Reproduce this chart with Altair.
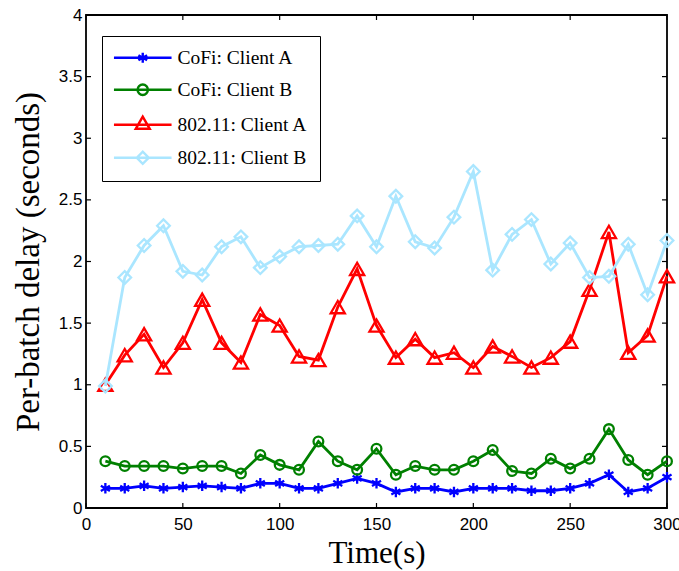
import math
import altair as alt
import pandas as pd

# Time axis (seconds) and per-batch delay for each client
time_s = [10, 20, 30, 40, 50, 60, 70, 80, 90, 100,
          110, 120, 130, 140, 150, 160, 170, 180, 190, 200,
          210, 220, 230, 240, 250, 260, 270, 280, 290, 300]

cofi_a = [0.16, 0.16, 0.18, 0.16, 0.17, 0.18, 0.17, 0.16, 0.20, 0.20,
          0.16, 0.16, 0.20, 0.24, 0.20, 0.13, 0.16, 0.16, 0.13, 0.16,
          0.16, 0.16, 0.14, 0.14, 0.16, 0.20, 0.27, 0.13, 0.16, 0.25]
cofi_b = [0.38, 0.34, 0.34, 0.34, 0.32, 0.34, 0.34, 0.28, 0.43, 0.35,
          0.31, 0.54, 0.38, 0.31, 0.48, 0.27, 0.34, 0.31, 0.31, 0.38,
          0.47, 0.30, 0.28, 0.40, 0.32, 0.40, 0.64, 0.39, 0.27, 0.38]
wifi_a = [1.00, 1.24, 1.41, 1.14, 1.34, 1.69, 1.34, 1.18, 1.57, 1.48,
          1.23, 1.20, 1.63, 1.94, 1.48, 1.22, 1.37, 1.22, 1.26, 1.14,
          1.31, 1.23, 1.14, 1.22, 1.35, 1.77, 2.24, 1.26, 1.40, 1.88]
wifi_b = [0.99, 1.87, 2.13, 2.29, 1.92, 1.89, 2.12, 2.20, 1.95, 2.04,
          2.12, 2.13, 2.14, 2.37, 2.12, 2.53, 2.16, 2.11, 2.36, 2.73,
          1.93, 2.22, 2.34, 1.98, 2.15, 1.87, 1.88, 2.14, 1.73, 2.17]

series_names = ["CoFi: Client A", "CoFi: Client B", "802.11: Client A", "802.11: Client B"]
series_values = [cofi_a, cofi_b, wifi_a, wifi_b]
series_colors = ["#0000FF", "#008000", "#FF0000", "#AAE6FF"]

x_ticks = [0, 50, 100, 150, 200, 250, 300]
y_ticks = [0, 0.5, 1, 1.5, 2, 2.5, 3, 3.5, 4]

W, H = 581, 493
SERIF = "Liberation Serif"
SANS = "Liberation Sans"

# marker shapes (unit paths scaled by sqrt(size)/2) and sizes
ASTERISK = "M0,-1L0,1M-0.866,-0.5L0.866,0.5M-0.866,0.5L0.866,-0.5"
marker_shapes = [ASTERISK, "circle", "triangle-up", "diamond"]
marker_sizes = [110, 95, 200, 160]

# legend symbols: a horizontal line with the marker drawn on it
LEG_SIZE = 144
u = math.sqrt(LEG_SIZE) / 2.0  # pixels per path unit


def legend_path(kind, px):
    r = px / u
    line = "M-4.8,0L4.8,0"
    if kind == "asterisk":
        a, b = 0.866 * r, 0.5 * r
        return line + f"M0,{-r:.3f}L0,{r:.3f}M{-a:.3f},{-b:.3f}L{a:.3f},{b:.3f}M{-a:.3f},{b:.3f}L{a:.3f},{-b:.3f}"
    if kind == "circle":
        return line + f"M{-r:.3f},0A{r:.3f},{r:.3f} 0 1,1 {r:.3f},0A{r:.3f},{r:.3f} 0 1,1 {-r:.3f},0Z"
    if kind == "triangle":
        h = math.tan(math.pi / 6) * r
        return line + f"M0,{-2 * h:.3f}L{-r:.3f},{h:.3f}L{r:.3f},{h:.3f}Z"
    return line + f"M{-r:.3f},0L0,{-r:.3f}L{r:.3f},0L0,{r:.3f}Z"


legend_shapes = [legend_path("asterisk", 5.0), legend_path("circle", 5.2),
                 legend_path("triangle", 7.0), legend_path("diamond", 6.0)]

rows = []
for name, vals in zip(series_names, series_values):
    for t, v in zip(time_s, vals):
        rows.append({"series": name, "time": t, "delay": v})
df = pd.DataFrame(rows)

x_scale = alt.Scale(domain=[0, 300], nice=False, zero=False)
y_scale = alt.Scale(domain=[0, 4], nice=False)

x_axis = alt.Axis(values=x_ticks, title="Time(s)", ticks=False, domain=False, grid=False,
                  labelFont=SANS, labelFontSize=17, labelColor="black", labelPadding=8,
                  labelFlush=False, labelOverlap=False,
                  titleFont=SERIF, titleFontSize=31, titleFontWeight="normal",
                  titleColor="black", titlePadding=6)
y_axis = alt.Axis(values=y_ticks, title="Per-batch delay (seconds)", format=".1~f",
                  ticks=False, domain=False, grid=False,
                  labelFont=SANS, labelFontSize=17, labelColor="black", labelPadding=4,
                  labelFlush=False, labelOverlap=False,
                  titleFont=SERIF, titleFontSize=33, titleFontWeight="normal",
                  titleColor="black", titlePadding=13)


def X(field):
    return alt.X(field, scale=x_scale, axis=x_axis)


def Y(field):
    return alt.Y(field, scale=y_scale, axis=y_axis)


layers = []
for name, color, shape, size in zip(series_names, series_colors, marker_shapes, marker_sizes):
    base = alt.Chart(df).transform_filter(alt.datum.series == name)
    line = base.mark_line(color=color, strokeWidth=2.8).encode(x=X("time:Q"), y=Y("delay:Q"))
    pts = base.mark_point(filled=False, shape=shape, size=size, strokeWidth=2.3,
                          color=color, opacity=1).encode(x=X("time:Q"), y=Y("delay:Q"))
    layers += [line, pts]

# legend, built from the series scales (no marks drawn)
legend = alt.Legend(title=None, orient="none", legendX=16, legendY=21,
                    strokeColor="black", fillColor="white", padding=12,
                    labelFont=SERIF, labelFontSize=19.5, labelColor="black",
                    symbolSize=LEG_SIZE, symbolStrokeWidth=2.4,
                    symbolOffset=19, labelOffset=25, rowPadding=11,
                    labelLimit=300)
legend_layer = alt.Chart(df).transform_filter("false").mark_point(
    filled=False, strokeWidth=2, opacity=1
).encode(
    x=X("time:Q"), y=Y("delay:Q"),
    color=alt.Color("series:N", scale=alt.Scale(domain=series_names, range=series_colors),
                    legend=legend),
    shape=alt.Shape("series:N", scale=alt.Scale(domain=series_names, range=legend_shapes),
                    legend=legend),
)

# inward tick marks on all four sides
xt = pd.DataFrame({"t": x_ticks})
yt = pd.DataFrame({"v": y_ticks})
TL = 5
tick_bottom = alt.Chart(xt).mark_rule(color="black", strokeWidth=1.2).encode(
    x=X("t:Q"), y=alt.value(H), y2=alt.value(H - TL))
tick_top = alt.Chart(xt).mark_rule(color="black", strokeWidth=1.2).encode(
    x=X("t:Q"), y=alt.value(0), y2=alt.value(TL))
tick_left = alt.Chart(yt).mark_rule(color="black", strokeWidth=1.2).encode(
    y=Y("v:Q"), x=alt.value(0), x2=alt.value(TL))
tick_right = alt.Chart(yt).mark_rule(color="black", strokeWidth=1.2).encode(
    y=Y("v:Q"), x=alt.value(W), x2=alt.value(W - TL))

chart = alt.layer(
    *layers, tick_bottom, tick_top, tick_left, tick_right, legend_layer
).properties(
    width=W, height=H,
    autosize=alt.AutoSizeParams(type="none"),
    padding={"left": 86, "top": 15, "right": 12, "bottom": 63},
    background="white",
).configure_view(
    stroke="black", strokeWidth=1.8
)

chart.save("out.html", embed_options={"renderer": "svg", "actions": False})
